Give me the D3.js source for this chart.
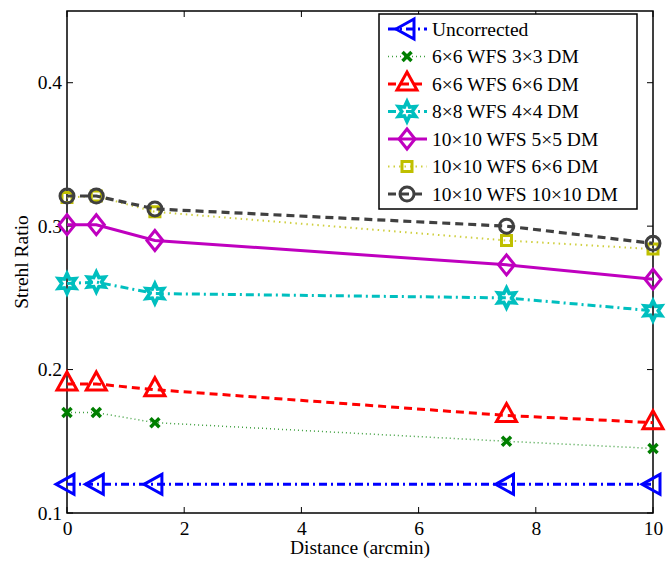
<!DOCTYPE html>
<html><head><meta charset="utf-8">
<script src="https://cdn.jsdelivr.net/npm/d3@7"></script>
<style>body{margin:0;background:#fff}svg{display:block}text{font-family:"Liberation Serif","Times New Roman",serif;fill:#000}</style>
</head><body><svg id="c" width="666" height="562"></svg>
<script>
const distances = [0, 0.5, 1.5, 7.5, 10];
const seriesNames = ["Uncorrected","6\u00d76 WFS 3\u00d73 DM","6\u00d76 WFS 6\u00d76 DM","8\u00d78 WFS 4\u00d74 DM","10\u00d710 WFS 5\u00d75 DM","10\u00d710 WFS 6\u00d76 DM","10\u00d710 WFS 10\u00d710 DM"];
const uncorrected = [0.12, 0.12, 0.12, 0.12, 0.12];
const wfs6dm3 = [0.17, 0.17, 0.163, 0.15, 0.145];
const wfs6dm6 = [0.19, 0.19, 0.186, 0.168, 0.163];
const wfs8dm4 = [0.26, 0.261, 0.253, 0.25, 0.241];
const wfs10dm5 = [0.301, 0.301, 0.29, 0.273, 0.263];
const wfs10dm6 = [0.32, 0.321, 0.31, 0.29, 0.284];
const wfs10dm10 = [0.321, 0.321, 0.312, 0.3, 0.288];
const xTicks = [0, 2, 4, 6, 8, 10];
const yTicks = [0.1, 0.2, 0.3, 0.4];

const series = [uncorrected, wfs6dm3, wfs6dm6, wfs8dm4, wfs10dm5, wfs10dm6, wfs10dm10];
const styles = [
  {c:"#0000ff", w:3, dash:"8,4,2,4", m:"tl"},
  {c:"#007f00", w:1.5, dash:"1,3", m:"x", lc:"#3f9f3f"},
  {c:"#ff0000", w:3, dash:"8,5", m:"tu"},
  {c:"#00bfbf", w:3, dash:"8,4,2,4", m:"hex"},
  {c:"#bf00bf", w:3, dash:null, m:"dia"},
  {c:"#bfbf00", w:2, dash:"1.5,4", m:"sq", lc:"#cfcf3f"},
  {c:"#404040", w:3.2, dash:"8,5", m:"circ"}
];

const L=67, R=653, T=11, B=513;
const x = d3.scaleLinear().domain([0,10]).range([L,R]);
const y = d3.scaleLinear().domain([0.1,0.45]).range([B,T]);
const svg = d3.select("#c");

function markerPath(m){
  switch(m){
    case "tl": return "M-11,0L7,-10L7,10Z";
    case "tu": return "M0,-12L10,6L-10,6Z";
    case "x": return "M-4.5,-4.5L4.5,4.5M-4.5,4.5L4.5,-4.5";
    case "dia": return "M0,-10L8,0L0,10L-8,0Z";
    case "sq": return "M-5,-5H5V5H-5Z";
    case "circ": { return "M7,0A7,7 0 1,1 -7,0A7,7 0 1,1 7,0Z"; }
    case "hex": {
      const pts=[]; for(let i=0;i<12;i++){const r=i%2===0?10:5.2;const a=-Math.PI/2+i*Math.PI/6;pts.push([r*Math.cos(a),r*Math.sin(a)]);}
      return "M"+pts.map(p=>p[0].toFixed(2)+","+p[1].toFixed(2)).join("L")+"Z";
    }
  }
}
function drawMarker(g, m, cx, cy, st){
  g.append("path").attr("d", markerPath(m)).attr("transform",`translate(${cx},${cy})`)
   .attr("fill","none").attr("stroke",st.c).attr("stroke-width", m==="x"?3.5:(m==="hex"?3.6:3)).attr("stroke-linejoin","miter");
}

// axes box
svg.append("rect").attr("x",L).attr("y",T).attr("width",R-L).attr("height",B-T).attr("fill","#fff").attr("stroke","#000").attr("stroke-width",1.5);
const ax = svg.append("g");
xTicks.forEach(t=>{
  ax.append("line").attr("x1",x(t)).attr("x2",x(t)).attr("y1",B).attr("y2",B-6).attr("stroke","#000");
  ax.append("line").attr("x1",x(t)).attr("x2",x(t)).attr("y1",T).attr("y2",T+6).attr("stroke","#000");
});
yTicks.forEach(t=>{
  ax.append("line").attr("x1",L).attr("x2",L+6).attr("y1",y(t)).attr("y2",y(t)).attr("stroke","#000");
  ax.append("line").attr("x1",R).attr("x2",R-6).attr("y1",y(t)).attr("y2",y(t)).attr("stroke","#000");
});
const xa = d3.axisBottom(x).tickValues(xTicks).tickFormat(d3.format("d")).tickSize(0).tickPadding(8);
svg.append("g").attr("transform",`translate(0,${B})`).call(xa).call(g=>{g.select(".domain").remove();g.selectAll("text").attr("font-size",19.5).attr("font-family","Liberation Serif");});
const ya = d3.axisLeft(y).tickValues(yTicks).tickFormat(d3.format(".1f")).tickSize(0).tickPadding(5);
svg.append("g").attr("transform",`translate(${L},0)`).call(ya).call(g=>{g.select(".domain").remove();g.selectAll("text").attr("font-size",19.5).attr("font-family","Liberation Serif");});

svg.append("text").attr("x",(L+R)/2).attr("y",554).attr("text-anchor","middle").attr("font-size",19.5).text("Distance (arcmin)");
svg.append("text").attr("transform",`translate(28,${(T+B)/2}) rotate(-90)`).attr("text-anchor","middle").attr("font-size",19.5).text("Strehl Ratio");

const line = d3.line().x((d,i)=>x(distances[i])).y(d=>y(d));
series.forEach((s,k)=>{
  const st=styles[k];
  const g=svg.append("g");
  g.append("path").attr("d",line(s)).attr("fill","none").attr("stroke",st.lc||st.c).attr("stroke-width",st.w).attr("stroke-dasharray",st.dash);
  s.forEach((v,i)=>drawMarker(g, st.m, x(distances[i]), y(v), st));
});

// legend
const lg = svg.append("g");
lg.append("rect").attr("x",379).attr("y",14).attr("width",258).attr("height",195).attr("fill","#fff").attr("stroke","#000").attr("stroke-width",1.5);
seriesNames.forEach((n,k)=>{
  const st=styles[k]; const cy=29+k*27.5;
  lg.append("line").attr("x1",388).attr("x2",427).attr("y1",cy).attr("y2",cy).attr("stroke",st.lc||st.c).attr("stroke-width",st.w).attr("stroke-dasharray",st.dash);
  drawMarker(lg, st.m, 407, cy, st);
  lg.append("text").attr("x",432).attr("y",cy+6.5).attr("font-size",19.5).text(n);
});
</script></body></html>
